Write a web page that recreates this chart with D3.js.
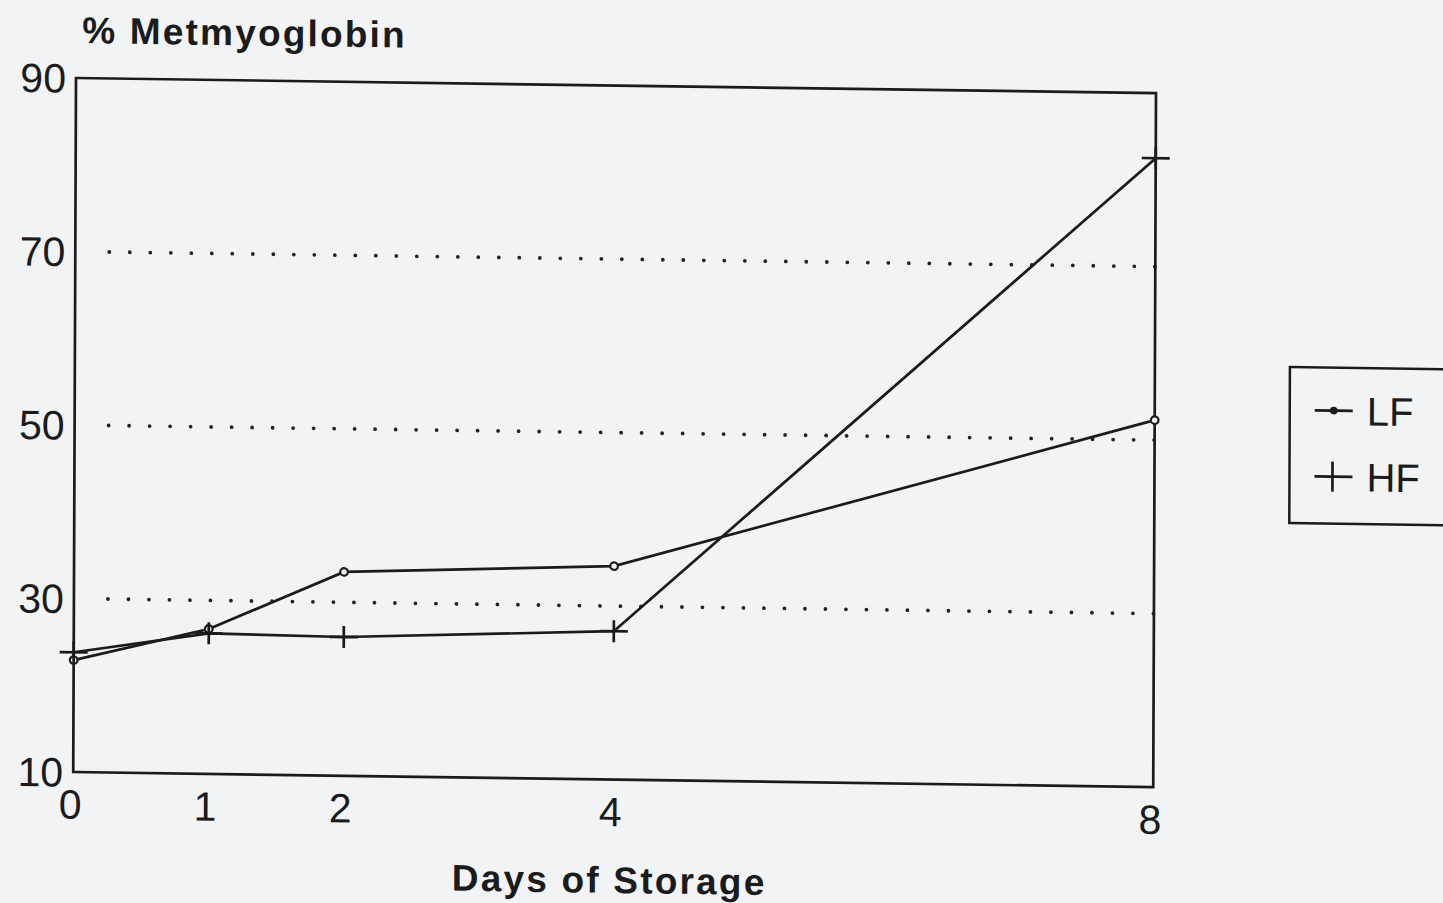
<!DOCTYPE html>
<html>
<head>
<meta charset="utf-8">
<script src="https://cdn.jsdelivr.net/npm/d3@7"></script>
<style>
  html, body { margin: 0; padding: 0; background: #f2f3f5; }
  svg { display: block; }
  text { font-family: "Liberation Sans", Arial, sans-serif; fill: #1b1b1b; }
</style>
</head>
<body>
<svg id="chart" width="1443" height="903"></svg>
<script>
// data
const days = [0, 1, 2, 4, 8];
const lfValues = [22.9, 26.7, 33.5, 34.6, 52.3];
const hfValues = [23.8, 26.2, 26.0, 27.1, 82.5];
const yTicks = [90, 70, 50, 30, 10];
const gridValues = [70, 50, 30];
const seriesNames = ["LF", "HF"];

const svg = d3.select("#chart");
svg.append("rect").attr("width", 1443).attr("height", 903).attr("fill", "#f2f3f5");

// the scan is slightly skewed, so everything sits in a sheared group
const skewB = 0.014, skewA = -0.004;
const g = svg.append("g")
  .attr("transform", `matrix(1,${skewB},${skewA},1,${-skewA * 78},${-skewB * 76})`);

const x = d3.scaleLinear().domain([0, 8]).range([76, 1156]);
const y = d3.scaleLinear().domain([10, 90]).range([772, 78]);

// dotted gridlines
g.selectAll(".grid")
  .data(gridValues)
  .enter().append("line")
  .attr("class", "grid")
  .attr("x1", 110).attr("x2", x(8))
  .attr("y1", d => y(d)).attr("y2", d => y(d))
  .attr("stroke", "#222")
  .attr("stroke-width", 3.8)
  .attr("stroke-linecap", "round")
  .attr("stroke-dasharray", "0 20.5");

// frame
g.append("rect")
  .attr("x", x(0)).attr("y", y(90))
  .attr("width", x(8) - x(0)).attr("height", y(10) - y(90))
  .attr("fill", "none")
  .attr("stroke", "#1b1b1b")
  .attr("stroke-width", 2.7);

// y tick labels
g.selectAll(".ylab")
  .data(yTicks)
  .enter().append("text")
  .attr("class", "ylab")
  .attr("x", 66)
  .attr("y", d => y(d))
  .attr("dy", "0.36em")
  .attr("text-anchor", "end")
  .attr("font-size", 41)
  .text(d => d);

// x tick labels
g.selectAll(".xlab")
  .data(days)
  .enter().append("text")
  .attr("class", "xlab")
  .attr("x", d => x(d) - 3)
  .attr("y", 804)
  .attr("dy", "0.36em")
  .attr("text-anchor", "middle")
  .attr("font-size", 41)
  .text(d => d);

// titles
g.append("text")
  .attr("x", 82).attr("y", 43)
  .attr("font-size", 37)
  .attr("font-weight", "bold")
  .attr("letter-spacing", 2.2)
  .text("% Metmyoglobin");

g.append("text")
  .attr("x", 455).attr("y", 872)
  .attr("dy", "0.36em")
  .attr("font-size", 37)
  .attr("font-weight", "bold")
  .attr("letter-spacing", 2.2)
  .text("Days of Storage");

// lines
const line = d3.line()
  .x(d => x(d[0]))
  .y(d => y(d[1]));

const lf = days.map((d, i) => [d, lfValues[i]]);
const hf = days.map((d, i) => [d, hfValues[i]]);

g.append("path")
  .datum(lf)
  .attr("d", line)
  .attr("fill", "none")
  .attr("stroke", "#1b1b1b")
  .attr("stroke-width", 2.7);

g.append("path")
  .datum(hf)
  .attr("d", line)
  .attr("fill", "none")
  .attr("stroke", "#1b1b1b")
  .attr("stroke-width", 2.7);

// LF markers: small circles
g.selectAll(".lfpt")
  .data(lf)
  .enter().append("circle")
  .attr("class", "lfpt")
  .attr("cx", d => x(d[0]))
  .attr("cy", d => y(d[1]))
  .attr("r", 3.8)
  .attr("fill", "#f2f3f5")
  .attr("stroke", "#1b1b1b")
  .attr("stroke-width", 2.2);

// HF markers: plus signs
const plus = g.selectAll(".hfpt")
  .data(hf)
  .enter().append("g")
  .attr("class", "hfpt")
  .attr("transform", d => `translate(${x(d[0])},${y(d[1])})`);
plus.append("line").attr("x1", -14).attr("x2", 14).attr("y1", 0).attr("y2", 0)
  .attr("stroke", "#1b1b1b").attr("stroke-width", 2.7);
plus.append("line").attr("x1", 0).attr("x2", 0).attr("y1", -11).attr("y2", 11)
  .attr("stroke", "#1b1b1b").attr("stroke-width", 2.7);

// legend
const legend = g.append("g").attr("transform", "translate(1291,350)");
legend.append("rect")
  .attr("x", 0).attr("y", 0)
  .attr("width", 200).attr("height", 156)
  .attr("fill", "none")
  .attr("stroke", "#1b1b1b")
  .attr("stroke-width", 2.5);

const items = legend.selectAll(".item")
  .data(seriesNames)
  .enter().append("g")
  .attr("class", "item")
  .attr("transform", (d, i) => `translate(0,${43 + i * 66})`);

items.append("line")
  .attr("x1", 25).attr("x2", 63)
  .attr("y1", 0).attr("y2", 0)
  .attr("stroke", "#1b1b1b").attr("stroke-width", 2.7);

items.filter(d => d === "LF").append("circle")
  .attr("cx", 44).attr("cy", 0).attr("r", 3.8)
  .attr("fill", "#1b1b1b");

items.filter(d => d === "HF").append("line")
  .attr("x1", 43).attr("x2", 43)
  .attr("y1", -15).attr("y2", 15)
  .attr("stroke", "#1b1b1b").attr("stroke-width", 2.7);

items.append("text")
  .attr("x", 77).attr("y", 0)
  .attr("dy", "0.36em")
  .attr("font-size", 40)
  .text(d => d);
</script>
</body>
</html>
